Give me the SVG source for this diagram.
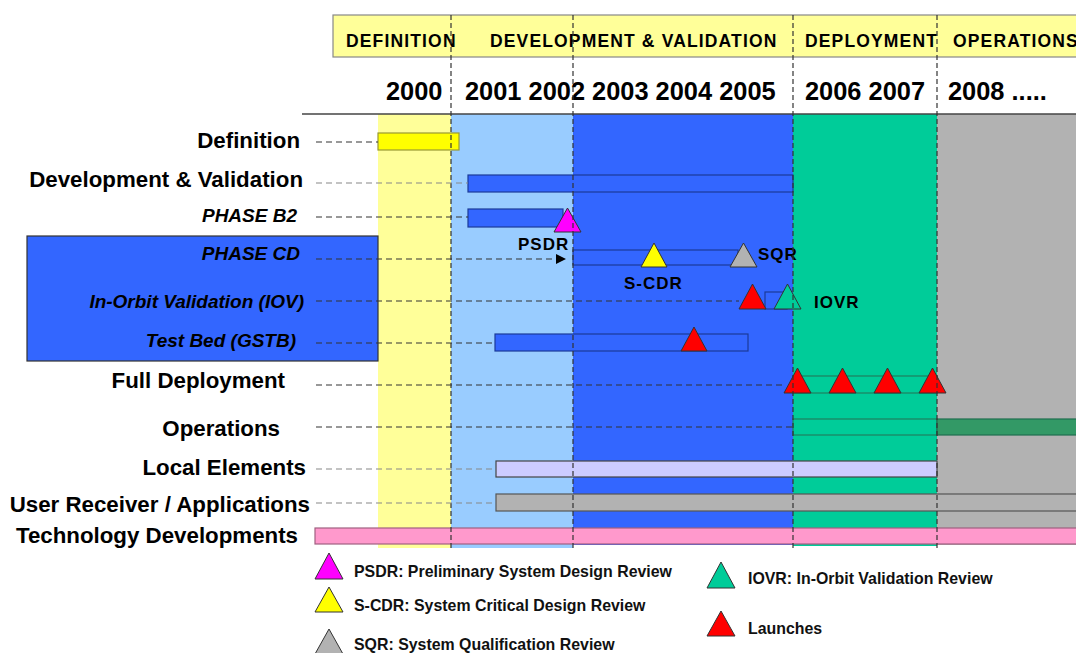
<svg xmlns="http://www.w3.org/2000/svg" width="1076" height="653" viewBox="0 0 1076 653">
<style>
.lbl{font-family:"Liberation Sans",Arial,sans-serif;font-weight:bold;font-size:22.3px;fill:#000;text-anchor:end}
.ital{font-family:"Liberation Sans",Arial,sans-serif;font-weight:bold;font-style:italic;font-size:19px;fill:#000;text-anchor:end}
.hdr{font-family:"Liberation Sans",Arial,sans-serif;font-weight:bold;font-size:17.5px;letter-spacing:1.15px;fill:#000}
.yr{font-family:"Liberation Sans",Arial,sans-serif;font-weight:bold;font-size:25.4px;fill:#000}
.ms{font-family:"Liberation Sans",Arial,sans-serif;font-weight:bold;font-size:17px;letter-spacing:1px;fill:#000}
.leg{font-family:"Liberation Sans",Arial,sans-serif;font-weight:bold;font-size:15.9px;fill:#111}
.vd{stroke:#333;stroke-width:1.2;stroke-dasharray:5 3;fill:none}
.cd{stroke:#333;stroke-width:1.2;stroke-dasharray:6 4;fill:none}
.cg{stroke:#888;stroke-width:1.2;stroke-dasharray:6 4;fill:none}
.bb{fill:#3366FF;stroke:#1B3A99;stroke-width:1.2}
.tri{stroke:#333;stroke-width:1}
</style>
<defs>
<marker id="arr" viewBox="0 0 10 10" refX="0" refY="5" markerWidth="11" markerHeight="10" markerUnits="userSpaceOnUse" orient="auto">
<path d="M0,0 L10,5 L0,10 z" fill="#000"/>
</marker>
</defs>
<rect width="1076" height="653" fill="#fff"/>

<g id="columns">
<rect x="378" y="114" width="73" height="434" fill="#FFFF99"/>
<rect x="451" y="114" width="122" height="434" fill="#99CCFF"/>
<rect x="573" y="114" width="220" height="431" fill="#3366FF"/>
<rect x="793" y="114" width="144" height="432" fill="#00CC99"/>
<rect x="937" y="114" width="139" height="431" fill="#B2B2B2"/>
</g>

<g id="header">
<rect x="333" y="15" width="750" height="42" fill="#FFFF99" stroke="#888" stroke-width="1.2"/>
<text class="hdr" x="346" y="47">DEFINITION</text>
<text class="hdr" x="490" y="47">DEVELOPMENT &amp; VALIDATION</text>
<text class="hdr" x="805" y="47">DEPLOYMENT</text>
<text class="hdr" x="953" y="47">OPERATIONS</text>
<text class="yr" x="386" y="100">2000</text>
<text class="yr" x="465" y="100">2001 2002 2003 2004 2005</text>
<text class="yr" x="805" y="100">2006 2007</text>
<text class="yr" x="948" y="100">2008 .....</text>
<line x1="302" y1="114" x2="1076" y2="114" stroke="#444" stroke-width="1.5"/>
</g>

<g id="iov-box">
<rect x="27" y="236" width="351" height="125" fill="#3366FF" stroke="#333" stroke-width="1.2"/>
</g>

<g id="definition">
<text class="lbl" x="300" y="148">Definition</text>
<rect x="378" y="133" width="81" height="17" fill="#FFFF00" stroke="#999933" stroke-width="1.2"/>
</g>
<g id="dev-val">
<text class="lbl" x="303" y="187">Development &amp; Validation</text>
<rect class="bb" x="468" y="175" width="325" height="17"/>
</g>
<g id="phase-b2">
<text class="ital" x="297" y="222">PHASE B2</text>
<rect class="bb" x="468" y="209" width="95" height="18"/>
<polygon class="tri" points="554,232 567.5,208 581,232" fill="#FF00FF"/>
<text class="ms" x="518" y="250">PSDR</text>
</g>
<g id="phase-cd">
<text class="ital" x="300" y="260">PHASE CD</text>
<rect class="bb" x="573" y="250" width="165" height="15"/>
<polygon class="tri" points="641,267 654,243 667,267" fill="#FFFF00"/>
<polygon class="tri" points="730,267 743.5,243 757,267" fill="#B2B2B2"/>
<text class="ms" x="758" y="260">SQR</text>
<text class="ms" x="624" y="289">S-CDR</text>
</g>
<g id="iov">
<text class="ital" x="304" y="308">In-Orbit Validation (IOV)</text>
<rect class="bb" x="765" y="292" width="22" height="17" stroke="#111"/>
<polygon class="tri" points="739,309 752.5,284 766,309" fill="#FF0000"/>
<polygon class="tri" points="774,309 787.5,284 801,309" fill="#00CC99"/>
<text class="ms" x="814" y="308">IOVR</text>
</g>
<g id="test-bed">
<text class="ital" x="296" y="347">Test Bed (GSTB)</text>
<rect class="bb" x="495" y="334" width="253" height="17"/>
<polygon class="tri" points="681,351 694,327 707,351" fill="#FF0000"/>
</g>
<g id="full-deployment">
<text class="lbl" x="285" y="388">Full Deployment</text>
<rect x="793" y="376" width="144" height="17" fill="#00CC99" stroke="#1F7F5F" stroke-width="1.2"/>
<polygon class="tri" points="784,393 797.5,368 811,393" fill="#FF0000"/>
<polygon class="tri" points="829,393 842.5,368 856,393" fill="#FF0000"/>
<polygon class="tri" points="874,393 887.5,368 901,393" fill="#FF0000"/>
<polygon class="tri" points="919,393 932.5,368 946,393" fill="#FF0000"/>
</g>
<g id="operations">
<text class="lbl" x="280" y="436">Operations</text>
<rect x="793" y="419" width="144" height="16" fill="#00CC99" stroke="#1F7F5F" stroke-width="1.2"/>
<rect x="937" y="419" width="145" height="16" fill="#339966" stroke="#1F6F4F" stroke-width="1.2"/>
</g>
<g id="local-elements">
<text class="lbl" x="306" y="475">Local Elements</text>
<rect x="496" y="461" width="441" height="16" fill="#CCCCFF" stroke="#444" stroke-width="1.2"/>
</g>
<g id="user-receiver">
<text class="lbl" x="310" y="512">User Receiver / Applications</text>
<rect x="496" y="494" width="586" height="17" fill="#B2B2B2" stroke="#555" stroke-width="1.2"/>
</g>
<g id="technology">
<text class="lbl" x="298" y="543">Technology Developments</text>
<rect x="315" y="528" width="767" height="16" fill="#FF99CC" stroke="#A06080" stroke-width="1.2"/>
</g>

<g id="gridlines">
<line class="vd" x1="451" y1="15" x2="451" y2="550"/>
<line class="vd" x1="573" y1="15" x2="573" y2="550"/>
<line class="vd" x1="793" y1="15" x2="793" y2="550"/>
<line class="vd" x1="937" y1="15" x2="937" y2="550"/>
</g>

<g id="connectors">
<line class="cd" x1="316" y1="142" x2="378" y2="142"/>
<line class="cg" x1="316" y1="183" x2="468" y2="183"/>
<line class="cd" x1="316" y1="217" x2="468" y2="217"/>
<line class="cd" x1="316" y1="259" x2="556" y2="259" marker-end="url(#arr)"/>
<line class="cd" x1="316" y1="301" x2="739" y2="301"/>
<line class="cd" x1="316" y1="343" x2="495" y2="343"/>
<line class="cd" x1="316" y1="385" x2="786" y2="385"/>
<line class="cd" x1="316" y1="427" x2="793" y2="427"/>
<line class="cg" x1="316" y1="469" x2="496" y2="469"/>
<line class="cg" x1="316" y1="503" x2="496" y2="503"/>
</g>

<g id="legend">
<polygon class="tri" points="315,579 329,553 343,579" fill="#FF00FF"/>
<text class="leg" x="354" y="577">PSDR: Preliminary System Design Review</text>
<polygon class="tri" points="315,612 329,587 343,612" fill="#FFFF00"/>
<text class="leg" x="354" y="611">S-CDR: System Critical Design Review</text>
<polygon class="tri" points="315,654 329,629 343,654" fill="#B2B2B2"/>
<text class="leg" x="354" y="650">SQR: System Qualification Review</text>
<polygon class="tri" points="707,588 721,562 735,588" fill="#00CC99"/>
<text class="leg" x="748" y="584">IOVR: In-Orbit Validation Review</text>
<polygon class="tri" points="707,636 721,611 735,636" fill="#FF0000"/>
<text class="leg" x="748" y="634">Launches</text>
</g>
</svg>
